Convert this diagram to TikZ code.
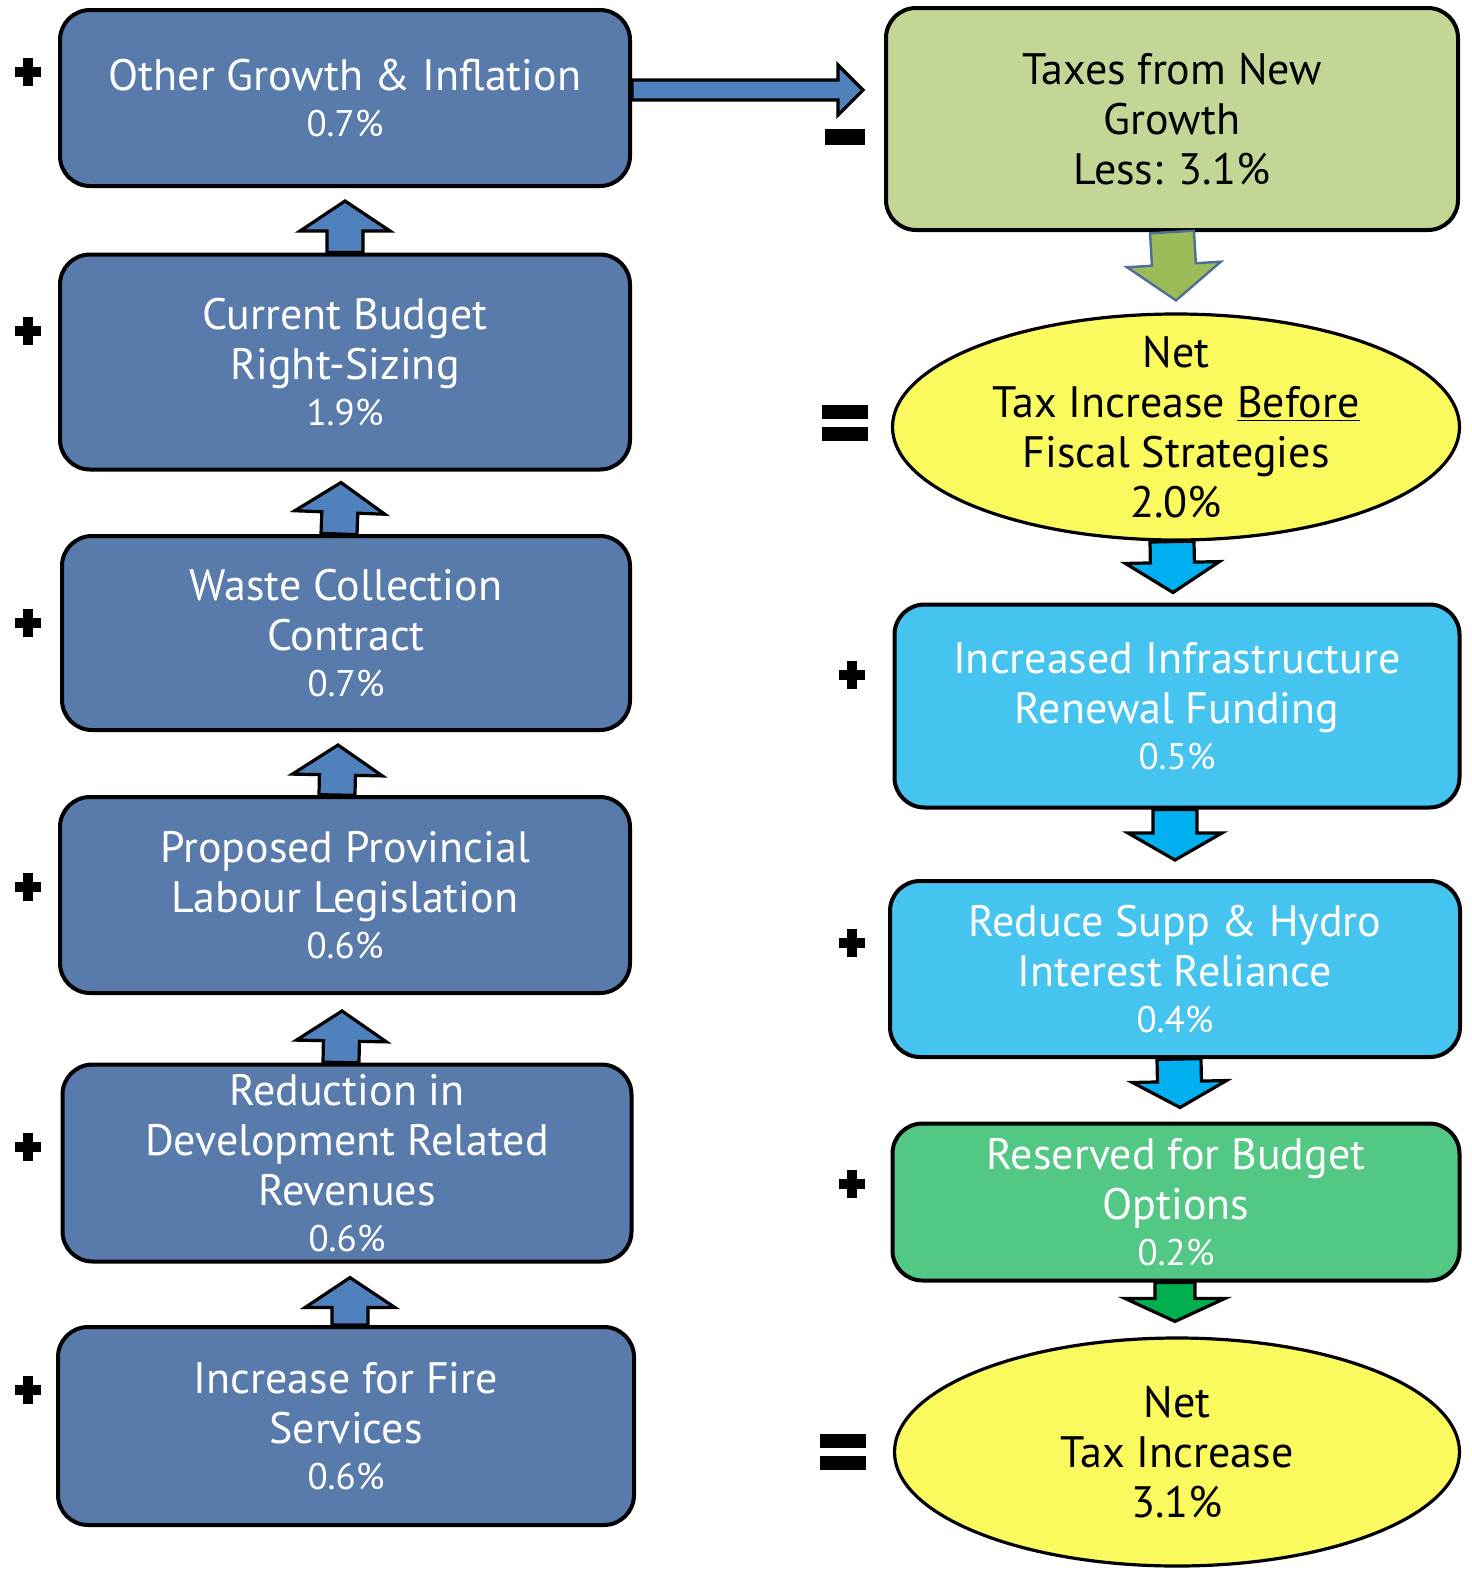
\documentclass[tikz,border=0pt]{standalone}
\usepackage{fontspec}
\setmainfont{PT Sans}
\usetikzlibrary{shapes.geometric,calc}
\definecolor{BoxBlue}  {RGB}{88,123,172}
\definecolor{ArrBlue}  {RGB}{79,129,189}
\definecolor{OliveFill}{RGB}{196,214,150}
\definecolor{OvalFill} {RGB}{250,250,95}
\definecolor{CyanFill} {RGB}{70,196,240}
\definecolor{CyanArr}  {RGB}{0,176,240}
\definecolor{MintFill} {RGB}{82,200,132}
\definecolor{GreenArr} {RGB}{0,176,80}
\definecolor{LimeArr}  {RGB}{155,187,89}
\definecolor{LimeLine} {RGB}{79,109,150}
\newcommand{\boxfont}{\fontsize{22}{25}\selectfont}
\newcommand{\pctfont}{\fontsize{18.5}{22}\selectfont}
\tikzset{
  nd_box/.style={
    rectangle, rounded corners=15pt, draw=black, line width=2pt,
    align=center, font=\boxfont, inner sep=0pt},
  nd_blue/.style={nd_box, fill=BoxBlue, text=white},
  nd_olive/.style={nd_box, fill=OliveFill, text=black},
  nd_cyan/.style={nd_box, fill=CyanFill, text=white},
  nd_mint/.style={nd_box, fill=MintFill, text=white},
  nd_oval/.style={
    ellipse, draw=black, line width=1.6pt, fill=OvalFill,
    align=center, font=\boxfont, inner xsep=0pt, inner ysep=-12pt},
  blk_blue/.style={draw=black, line width=1.6pt, fill=ArrBlue, line join=miter},
  blk_lime/.style={draw=LimeLine, line width=1.2pt, fill=LimeArr, line join=miter},
  blk_cyan/.style={draw=black, line width=1.6pt, fill=CyanArr, line join=miter},
  blk_green/.style={draw=black, line width=1.6pt, fill=GreenArr, line join=miter},
}
% block arrow: style, tail, tip, shaft half width, head half width, head length
\newcommand{\blkarrow}[6]{%
  \coordinate (ah) at ($(#3)!#6!(#2)$);
  \draw[#1] ($(#2)!#4!90:(#3)$) -- ($(ah)!#4!90:(#3)$) -- ($(ah)!#5!90:(#3)$)
    -- (#3) -- ($(ah)!#5!-90:(#3)$) -- ($(ah)!#4!-90:(#3)$)
    -- ($(#2)!#4!-90:(#3)$) -- cycle;
}
\newcommand{\plusmark}[2]{%
  \fill[black] (#1-5,#2-14) rectangle (#1+5,#2+14);
  \fill[black] (#1-13,#2-5) rectangle (#1+13,#2+5);
}
\newcommand{\minusmark}[2]{%
  \fill[black] (#1-20,#2-8) rectangle (#1+20,#2+8);
}
\newcommand{\equalmark}[2]{%
  \fill[black] (#1-23,#2-18) rectangle (#1+23,#2-4);
  \fill[black] (#1-23,#2+4) rectangle (#1+23,#2+18);
}

\begin{document}
\begin{tikzpicture}[x=0.5pt,y=-0.5pt]
\useasboundingbox (0,0) rectangle (1472,1570);

%% left column
\node[nd_blue,minimum width=285pt,minimum height=88pt]  at (345,98)   (growth){Other Growth \& Inflation\\[-2pt]{\pctfont 0.7\%}};
\node[nd_blue,minimum width=285pt,minimum height=107.5pt] at (345,362) (budget){Current Budget\\Right-Sizing\\[-2pt]{\pctfont 1.9\%}};
\node[nd_blue,minimum width=284pt,minimum height=97pt]  at (346,633)  (waste){Waste Collection\\Contract\\[-2pt]{\pctfont 0.7\%}};
\node[nd_blue,minimum width=285pt,minimum height=98pt]  at (345,895)  (labour){Proposed Provincial\\Labour Legislation\\[-2pt]{\pctfont 0.6\%}};
\node[nd_blue,minimum width=284.5pt,minimum height=98.5pt] at (347,1163) (devrev){Reduction in\\Development Related\\Revenues\\[-2pt]{\pctfont 0.6\%}};
\node[nd_blue,minimum width=288pt,minimum height=99pt]  at (346,1426) (fire){Increase for Fire\\Services\\[-2pt]{\pctfont 0.6\%}};

%% right column
\node[nd_olive,minimum width=286pt,minimum height=111pt] at (1172,119) (taxes){Taxes from New\\Growth\\Less: 3.1\%};
\node[nd_oval,minimum width=283.5pt,minimum height=113pt] at (1176,427) (before){Net\\Tax Increase \underline{Before}\\Fiscal Strategies\\2.0\%};
\node[nd_cyan,minimum width=282.5pt,minimum height=101.5pt] at (1177,706) (infra){Increased Infrastructure\\Renewal Funding\\[-2pt]{\pctfont 0.5\%}};
\node[nd_cyan,minimum width=285pt,minimum height=88pt] at (1175,969) (supp){Reduce Supp \& Hydro\\Interest Reliance\\[-2pt]{\pctfont 0.4\%}};
\node[nd_mint,minimum width=283.5pt,minimum height=78.5pt] at (1176,1202) (reserve){Reserved for Budget\\Options\\[-2pt]{\pctfont 0.2\%}};
\node[nd_oval,minimum width=282.5pt,minimum height=114pt] at (1177,1452) (nettax){Net\\Tax Increase\\3.1\%};

%% signs
\foreach \y in {72,331,623,887,1147,1390} {\plusmark{28}{\y}}
\foreach \y in {675,943,1184} {\plusmark{852}{\y}}
\minusmark{845}{137}
\equalmark{845}{423}
\equalmark{843}{1452}

%% arrows
\coordinate (u1) at ($(growth.south)+(0,13)$);
\coordinate (u2) at ($(budget.south)+(-4,11)$);
\coordinate (u3) at ($(waste.south)+(-8,13)$);
\coordinate (u4) at ($(labour.south)+(-3,16)$);
\coordinate (u5) at ($(devrev.south)+(3,14)$);
\blkarrow{blk_blue}{budget.north}{u1}{9pt}{22.5pt}{15pt}
\blkarrow{blk_blue}{$(waste.north)+(-7,0)$}{u2}{9pt}{22.5pt}{15pt}
\blkarrow{blk_blue}{$(labour.north)+(-8,0)$}{u3}{9pt}{22.5pt}{15pt}
\blkarrow{blk_blue}{$(devrev.north)+(-6,0)$}{u4}{9pt}{22.5pt}{15pt}
\blkarrow{blk_blue}{$(fire.north)+(4,0)$}{u5}{9pt}{22.5pt}{15pt}

\coordinate (g0) at ($(growth.east)+(0,-8)$);
\coordinate (g1) at ($(growth.east -| taxes.west)+(-21,-8)$);
\blkarrow{blk_blue}{g0}{g1}{5pt}{12.5pt}{12.5pt}

\coordinate (d1) at ($(before.north)+(0,-12)$);
\coordinate (d2) at ($(infra.north)+(-4,-10)$);
\coordinate (d3) at ($(supp.north)+(0,-19)$);
\coordinate (d4) at ($(reserve.north)+(4,-14)$);
\coordinate (d5) at ($(nettax.north)+(-2,-15)$);
\blkarrow{blk_lime}{taxes.south}{d1}{11pt}{23.5pt}{18pt}
\blkarrow{blk_cyan}{$(before.south)+(-4,0)$}{d2}{11pt}{23.5pt}{15pt}
\blkarrow{blk_cyan}{supp.north |- infra.south}{d3}{11pt}{23.5pt}{13.5pt}
\blkarrow{blk_cyan}{$(supp.south)+(4,0)$}{d4}{11pt}{23.5pt}{13pt}
\blkarrow{blk_green}{$(reserve.south)+(-1,0)$}{d5}{10pt}{25pt}{11.5pt}

\end{tikzpicture}
\end{document}
